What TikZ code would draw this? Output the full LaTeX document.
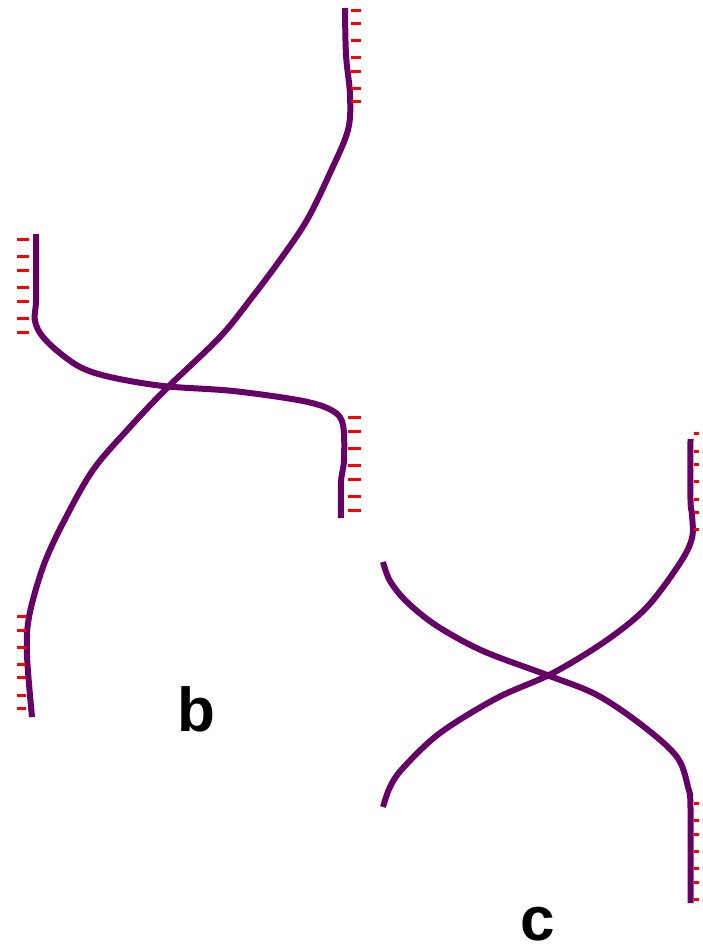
\documentclass[tikz,border=0pt]{standalone}
\usepackage{fontspec}
\setmainfont{Liberation Sans}
\definecolor{strand}{HTML}{660066}
\definecolor{tick}{HTML}{FF0000}
\begin{document}
\begin{tikzpicture}[x=1pt,y=-1pt,
  strandline/.style={draw=strand,line width=6pt,line join=round},
  ticks/.style={draw=tick,line width=3pt},
  lbl/.style={font=\fontsize{62}{62}\selectfont\bfseries,inner sep=0pt,anchor=base}]
\useasboundingbox (0,0) rectangle (702,947);
% figure b, long strand
\draw[strandline] plot[smooth,tension=0.55] coordinates {
 (345,8) (346,55) (350,95) (348,130) (330,173) (307,220) (280,260) (250,300)
 (220,337) (167,388) (130,427) (93,470) (63,523) (43,567) (29,617) (27,655) (32,717)};
% figure b, S strand
\draw[strandline] plot[smooth,tension=0.55] coordinates {
 (36,234) (36,300) (34.5,318) (40,333) (55,349) (80,367) (110,377) (163,386)
 (233,391) (303,401) (333,411) (343,425) (344,460) (341,482) (341,518)};
% figure c, strand A
\draw[strandline] plot[smooth,tension=0.55] coordinates {
 (383,562) (390,581) (407,602) (437,626) (483,651) (547,675) (597,695) (643,726)
 (677,757) (688,787) (690.5,808) (690.5,903)};
% figure c, strand B
\draw[strandline] plot[smooth,tension=0.55] coordinates {
 (383,807) (390,787) (403,768) (440,733) (497,698) (553,673) (607,640) (647,607)
 (680,563) (692,538) (692,515) (690.5,500) (690.5,439)};
% ticks
\foreach \y in {10.5,24,41,58,72,89,102} \draw[ticks] (351,\y) -- (361,\y);
\foreach \y in {239.5,256,270,287,301,318,332} \draw[ticks] (17,\y) -- (29,\y);
\foreach \y in {417,431,448,465,479,496,510} \draw[ticks] (348,\y) -- (361,\y);
\foreach \y in {616,630,647,664,677,695,708} \draw[ticks] (17,\y) -- (26,\y);
\foreach \y in {433,451,464,481,499,512,529} \draw[ticks] (694,\y) -- (699,\y);
\foreach \y in {803,820,834,851,868,882,899} \draw[ticks] (694,\y) -- (699,\y);
% labels
\node[lbl] (labelb) at (196,731) {b};
\node[lbl] (labelc) at (537.5,940) {c};
\end{tikzpicture}
\end{document}
